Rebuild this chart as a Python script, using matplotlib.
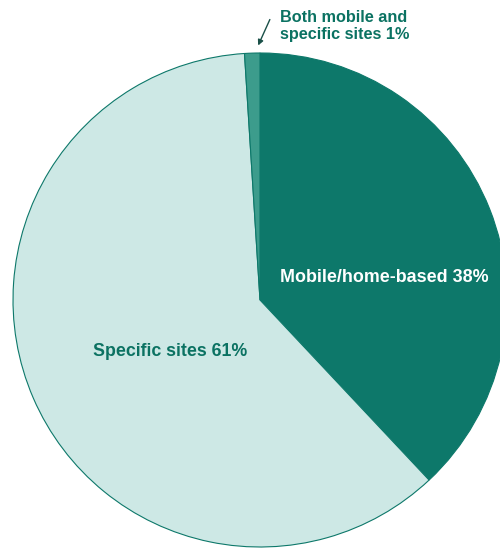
import matplotlib
matplotlib.use('Agg')
import matplotlib.pyplot as plt

# ── Data ──────────────────────────────────────────────────────────────────────
labels = ['Mobile/home-based', 'Specific sites', 'Both mobile and\nspecific sites']
shares = [38, 61, 1]
colors = ['#0d786a', '#cde8e5', '#3c9c8c']

TEAL = '#0b7262'

plt.rcParams['font.family'] = ['Liberation Sans', 'DejaVu Sans']

fig = plt.figure(figsize=(5.0, 5.48), dpi=100)
ax = fig.add_axes([0, 0, 1, 1])

# big pie, partly running off the right/bottom edge
wedges, _ = ax.pie(shares, colors=colors, startangle=90, counterclock=False,
                   center=(260, 248), radius=247,
                   wedgeprops=dict(linewidth=0.8, edgecolor=colors[0]))
ax.set_xlim(0, 500)
ax.set_ylim(0, 548)
ax.set_aspect('equal')
ax.axis('off')

# ── Labels ────────────────────────────────────────────────────────────────────
ax.text(384, 271, f'{labels[0]} {shares[0]}%', color='white',
        fontsize=12.9, fontweight='bold', ha='center', va='center')
ax.text(170, 196, f'{labels[1]} {shares[1]}%', color=TEAL,
        fontsize=12.8, fontweight='bold', ha='center', va='center')
ax.text(280, 522, f'{labels[2]} {shares[2]}%', color=TEAL,
        fontsize=11.7, fontweight='bold', ha='left', va='center',
        linespacing=1.1)
ax.annotate('', xy=(257, 500), xytext=(271, 531),
            arrowprops=dict(arrowstyle='-|>', color='#1a5048', lw=1.0,
                            mutation_scale=8))

fig.savefig('out.png', dpi=100)
